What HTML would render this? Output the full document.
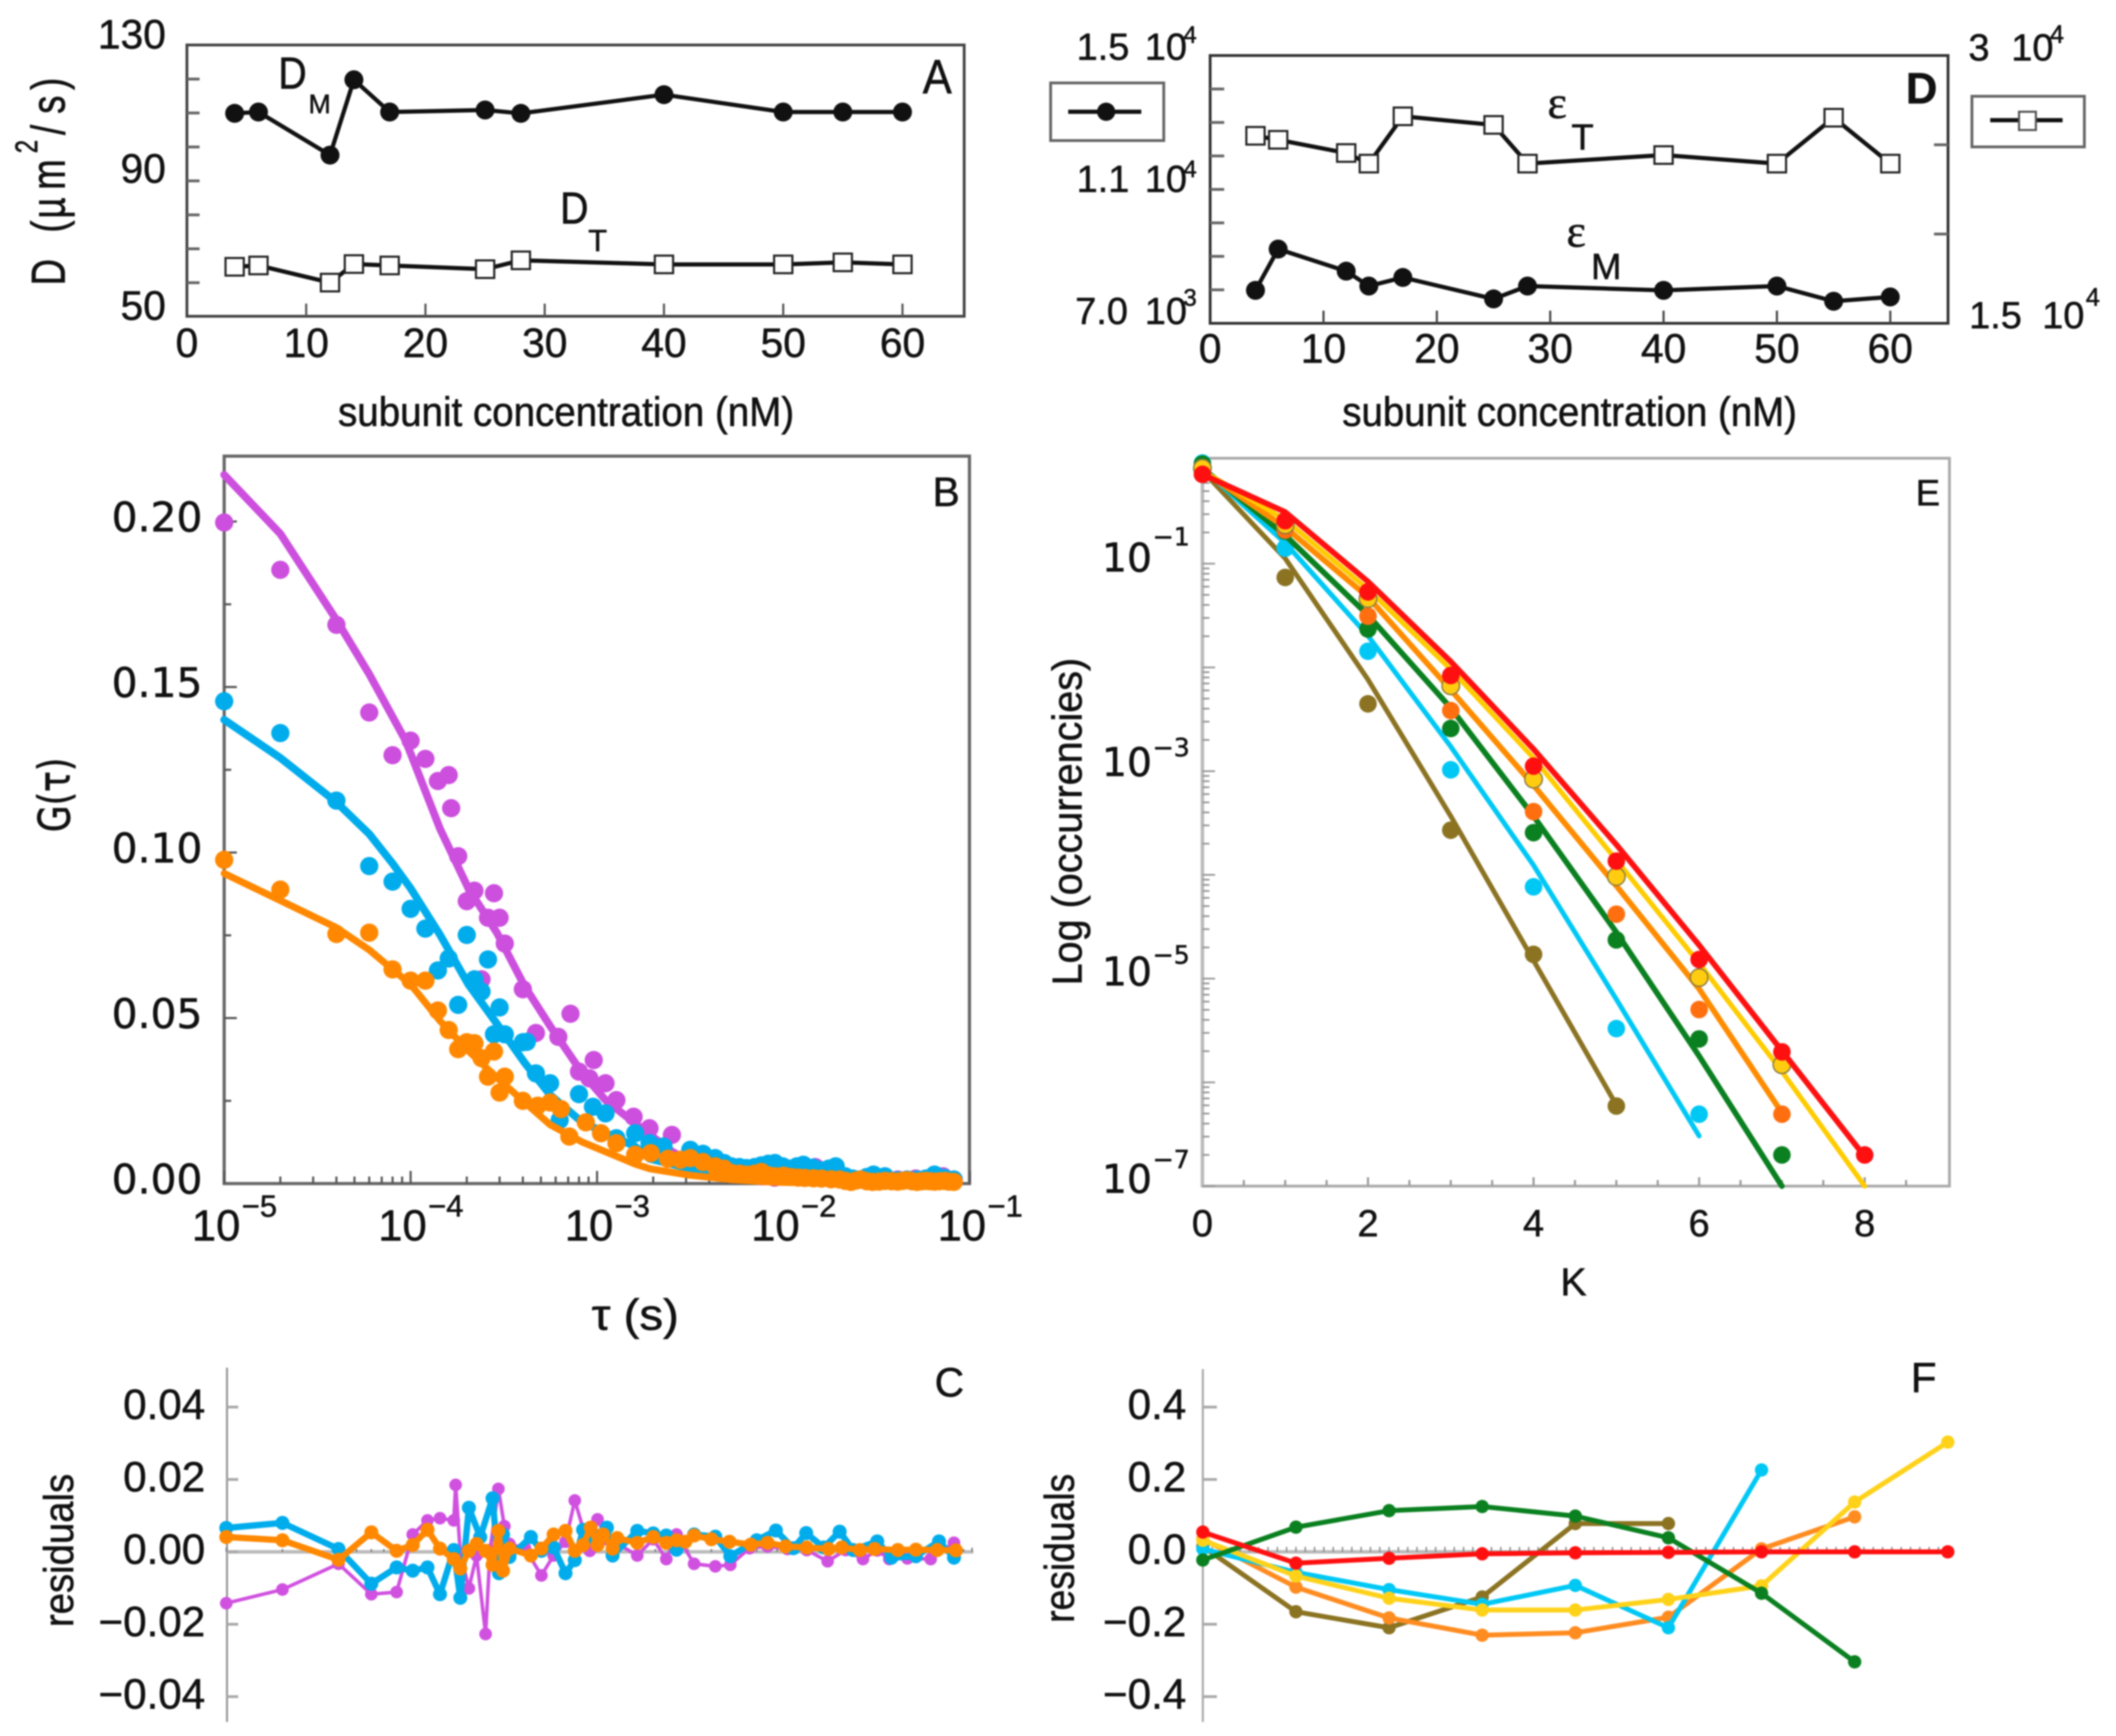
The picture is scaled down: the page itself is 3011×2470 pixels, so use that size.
<!DOCTYPE html>
<html lang="en">
<head>
<meta charset="utf-8">
<title>FCS panels A-F</title>
<style>
html,body{margin:0;padding:0;background:#fff}
svg{display:block;filter:blur(1px)}
text{fill:#111;stroke:#111;stroke-width:.7px;font-family:"Liberation Sans",sans-serif}
.dj{font-family:"DejaVu Sans",sans-serif}
.sf{font-family:"Liberation Serif",serif}
</style>
</head>
<body>
<svg id="fig" xmlns="http://www.w3.org/2000/svg" width="3011" height="2470" viewBox="0 0 3011 2470">
<rect width="3011" height="2470" fill="#fff"/>
<g id="pA">
<rect x="266" y="64" width="1106" height="386" fill="none" stroke="#444" stroke-width="4"/>
<text transform="translate(92,406) rotate(-90) scale(1,1.3)" font-size="52"><tspan x="0">D</tspan><tspan x="75">(</tspan><tspan x="95">µ</tspan><tspan x="136">m</tspan><tspan x="188" dy="-30" font-size="34">2</tspan><tspan x="214" dy="30">/</tspan><tspan x="244">s</tspan><tspan x="278">)</tspan></text>
<text transform="translate(481,606) scale(1,1.12)" x="0" y="0" font-size="52" textLength="649" lengthAdjust="spacingAndGlyphs">subunit concentration (nM)</text>
<text transform="translate(396,126) scale(1,1.15)" font-size="56">D</text>
<text x="439" y="161" font-size="38">M</text>
<text transform="translate(797,318) scale(1,1.15)" font-size="56">D</text>
<text x="837" y="357" font-size="44">T</text>
<text transform="translate(1313,133) scale(1,1.1)" font-size="62">A</text>
</g>
<g id="pD">
<rect x="1722" y="79" width="1050" height="381" fill="none" stroke="#333" stroke-width="4"/>
<text font-size="54"><tspan x="1532" y="85">1.5</tspan><tspan x="1629" y="85">10</tspan><tspan x="1684" y="61" font-size="34">4</tspan></text>
<text font-size="54"><tspan x="1532" y="273">1.1</tspan><tspan x="1629" y="273">10</tspan><tspan x="1684" y="252" font-size="34">4</tspan></text>
<text font-size="54"><tspan x="1530" y="461">7.0</tspan><tspan x="1629" y="461">10</tspan><tspan x="1684" y="435" font-size="34">3</tspan></text>
<text font-size="54"><tspan x="2801" y="86">3</tspan><tspan x="2862" y="86">10</tspan><tspan x="2917" y="61" font-size="36">4</tspan></text>
<text font-size="54"><tspan x="2802" y="467">1.5</tspan><tspan x="2906" y="467">10</tspan><tspan x="2968" y="435" font-size="36">4</tspan></text>
<text transform="translate(1910,606) scale(1,1.12)" x="0" y="0" font-size="52" textLength="647" lengthAdjust="spacingAndGlyphs">subunit concentration (nM)</text>
<text class="sf" x="2202" y="168" font-size="66">ε</text>
<text x="2236" y="213" font-size="52">T</text>
<text class="sf" x="2229" y="351" font-size="66">ε</text>
<text x="2264" y="397" font-size="52">M</text>
<text x="2712" y="147" font-size="62" font-weight="bold">D</text>
<g>
<rect x="1495" y="118" width="161" height="82" fill="#fff" stroke="#666" stroke-width="4"/>
<line x1="1520" y1="159" x2="1624" y2="159" stroke="#111" stroke-width="6"/>
<circle cx="1574" cy="159" r="13" fill="#111"/>
</g>
<g>
<rect x="2806" y="137" width="160" height="72" fill="#fff" stroke="#666" stroke-width="4"/>
<line x1="2832" y1="171" x2="2935" y2="171" stroke="#111" stroke-width="6"/>
<rect x="2873" y="159" width="24" height="26" fill="#fff" stroke="#555" stroke-width="3"/>
</g>
</g>
<g id="pB">
<path d="M319 1684V649H1379.5V1684Z" fill="none" stroke="#666" stroke-width="4.5"/>
<text class="dj" transform="translate(99,1184) rotate(-90) scale(1,1.25)" font-size="50" textLength="106" lengthAdjust="spacingAndGlyphs">G(τ)</text>
<text transform="translate(842,1892) scale(1,1.15)" x="0" y="0" font-size="54" textLength="124" lengthAdjust="spacingAndGlyphs">τ (s)</text>
<text x="1327" y="720" font-size="58">B</text>
</g>
<g id="pE">
<rect x="1711" y="652" width="1063" height="1035.6" fill="none" stroke="#aaa" stroke-width="4"/>
<line x1="1711" y1="652" x2="1711" y2="1688" stroke="#bbb" stroke-width="5"/>
<text transform="translate(1539,1402) rotate(-90) scale(1,1.1)" font-size="54" textLength="466" lengthAdjust="spacingAndGlyphs">Log (occurrencies)</text>
<text x="2239" y="1843" font-size="56" text-anchor="middle">K</text>
<text x="2726" y="719" font-size="52">E</text>
</g>
<g id="pC">
<line x1="323" y1="1946" x2="323" y2="2450" stroke="#999" stroke-width="3"/>
<line x1="323" y1="2208" x2="1385" y2="2208" stroke="#bbb" stroke-width="5"/>
<text transform="translate(104,2315) rotate(-90) scale(1,1.1)" font-size="54" textLength="218" lengthAdjust="spacingAndGlyphs">residuals</text>
<text x="1330" y="1987" font-size="58">C</text>
</g>
<g id="pF">
<line x1="1711.6" y1="1948" x2="1711.6" y2="2450" stroke="#aaa" stroke-width="3"/>
<line x1="1711.6" y1="2208" x2="2775" y2="2208" stroke="#bbb" stroke-width="5"/>
<text transform="translate(1528,2309) rotate(-90) scale(1,1.1)" font-size="54" textLength="212" lengthAdjust="spacingAndGlyphs">residuals</text>
<text x="2719" y="1981" font-size="60">F</text>
</g>
</svg>
<script>
// ---- Panel A data ----
const concA = [4,6,12,14,17,25,28,40,50,55,60];
const diffMonomer = [109.9,110.3,97.6,119.8,110.3,110.9,109.9,115.4,110.3,110.3,110.3];
const diffTetramer = [64.7,65.1,60.05,65.5,65.1,64,66.6,65.4,65.4,66,65.4];
const ticksAX = [0,10,20,30,40,50,60];
const ticksAY = [60,70,80,90,100,110,120];
const labelsAY = [130,90,50];
// ---- Panel D data ----
const concD = [4,6,12,14,17,25,28,40,50,55,60];
const epsMonomer = [7985,9218,8559,8113,8370,7728,8113,7985,8113,7660,7788];
const epsTetramer = [25503,25279,24540,23945,26595,26113,23945,24427,23945,26515,23945];
const ticksDX = [0,10,20,30,40,50,60];
const ticksDLeft = [8000,9000,10000,11000,12000,13000,14000];
const ticksDRight = [20000,25000];
// ---- Panel B data: tau in units of 10 microseconds ----
const tauPurple = [1,2,4,6,8,10,12,14,16,16.5,18,20,22,24,26,28,30,32,40,47,62,72,80,91,96,111,127,157,191,252,320,384,448,512,640,768,896,1024,1280,1480,1792,2048,2560,3072,3584,4096,5120,6144,7168,8192];
const gPurple = [.1997,.1854,.1688,.1423,.1294,.1338,.1283,.1216,.1234,.1134,.0989,.0853,.0885,.0617,.0803,.0877,.0803,.0725,.0587,.0455,.0443,.0513,.0338,.0318,.0373,.0303,.0252,.0202,.0167,.0147,.0085,.007,.006,.005,.004,.0022,.0018,.0025,.0045,.005,.0028,.0015,.0012,.0008,.001,.0012,.0015,.0018,.0022,.0012];
const tauBlue = [1,2,4,6,8,10,12,14,16,18,20,22,24,26,28,30,32,40,42,47,56,63,80,95,111,127,160,191,227,316,370,430,480,525,580,632,700,760,830,900,990,1080,1180,1277,1440,1600,1750,1905,2140,2350,2560,2800,3040,3500,4096,4600,5200,5800,6450,7300,8192];
const gBlue = [.1457,.1361,.1157,.0959,.0912,.083,.077,.0644,.068,.054,.0751,.0617,.058,.0677,.0451,.0532,.0451,.0427,.0428,.0333,.0303,.0192,.027,.0232,.0212,.0137,.0152,.0122,.0112,.0102,.009,.0077,.0062,.0052,.005,.0047,.005,.0055,.006,.0062,.0052,.0045,.0052,.0057,.0048,.004,.0045,.0052,.0022,.0015,.0012,.002,.0027,.0022,.001,.0012,.0012,.0015,.0027,.0017,.0012];
const tauOrange = [1,2,4,6,8,10,12,14,16,18,20,22,24,26,28,30,32,40,48,56,64,71,87,105,127,160,194,240,280,316,370,430,480,525,580,632,700,760,830,900,1000,1100,1200,1300,1450,1600,1800,2000,2150,2300,2450,2600,2800,3000,3250,3500,3800,4096,4350,4600,4900,5200,5500,5800,6100,6450,6850,7300,7700,8192];
const gOrange = [.0978,.0888,.0754,.0758,.0647,.0613,.0613,.0523,.0464,.0406,.0427,.0424,.0379,.0323,.0399,.0275,.0323,.025,.0235,.0245,.0225,.0142,.0185,.0152,.0122,.0087,.0092,.0075,.0072,.0077,.0065,.0052,.0045,.0032,.003,.0027,.003,.0035,.0025,.0022,.0024,.002,.0018,.0017,.0016,.0015,.0013,.0012,.0008,.0005,.0009,.0012,.0007,.0005,.0006,.0008,.0007,.0006,.0008,.001,.0007,.0005,.0007,.0008,.0007,.0006,.0007,.0008,.0006,.0005];
const tauFitPurple = [1,2,4,6,9.4,14.4,20.4,29,41,56,83,111,160,252,430,900,2000,8192];
const fitPurple = [.2141,.1963,.1703,.1539,.1338,.1071,.0892,.0758,.0595,.0476,.0335,.0252,.0182,.0097,.0027,.0007,.0001,0];
const tauFit = [1,2,4,6,8,10,14.4,20.4,29,41,56,83,160,191,316,525,900,2000,8192];
const fitBlue = [.1401,.1286,.1152,.1056,.0967,.0892,.0751,.0602,.0483,.0364,.0268,.0186,.0112,.0075,.0045,.0025,.001,.0003,0];
const fitOrange = [.0937,.0855,.0773,.0706,.0647,.0602,.0491,.0401,.032,.0245,.0178,.0126,.0059,.0045,.0025,.0012,.0004,.0001,0];
const ticksBY = [0,.05,.1,.15,.2];
const labelsBY = ["0.00","0.05","0.10","0.15","0.20"];
const minorBY = [.025,.075,.125,.175];
const decadesB = [-5,-4,-3,-2,-1];
// ---- Panel C data ----
const tauResPurple = [1,2,4,6,8.2,10,12,14,16.6,17,18,20,22,24.6,26,28.8,31,33,40,49,57,66,74,89,98,110,128,160,195,229,260,323,420,505,640,800,1024,1300,1680,2100,2600,3100,3600,4500,6000,8000];
const resPurple = [-.0142,-.0104,-.0033,-.0117,-.0111,.0048,.0087,.0093,.0087,.0185,-.0004,-.0101,-.001,-.0227,.0005,.0174,.0071,.0022,.001,-.0065,-.001,.0028,.0142,.0003,.009,.0035,.002,-.001,.0035,-.002,.0048,-.0033,-.004,-.0036,.001,.0015,.0008,.0005,-.0026,.0005,-.002,.0004,-.002,-.0018,-.002,.0025];
const tauResBlue = [1,2,4,6,8.2,10,12,14,16.6,18,20,23,26.8,29,30.5,33,43,49,57,66,74,82,90,110,118,160,195,229,260,323,420,505,700,887,1100,1290,1600,1950,2300,3100,3700,5000,6650,8000];
const resBlue = [.0066,.008,.0008,-.0088,-.0043,-.0052,-.0043,-.0117,.0005,-.0127,.0122,.0041,.0148,-.0059,.0048,-.0014,.0041,.0003,.0012,-.0059,-.0023,.0061,.0041,.0067,-.001,.0058,.0051,.0045,.0006,.0048,.0042,-.0012,.0032,.0059,.001,.0052,.0012,.0056,.0005,.0029,-.0016,-.0012,.0029,-.0016];
const tauResOrange = [1,2,4,6,8.2,10,12,14,16.6,18,20,22,24.6,26.8,28.8,30.5,33,43,49,57,66,74,82,90,98,105,118,125,160,195,229,260,290,323,400,500,650,800,1000,1300,1700,2000,2500,3000,4000,5000,6500,8192];
const resOrange = [.0041,.0032,-.0022,.0054,.0003,.0019,.0061,.0009,-.002,-.0046,.0003,.0022,.0003,-.0036,.0058,-.0052,.0009,-.001,.0009,.0048,.0058,.0003,.0019,.0067,.0019,.0048,.0009,.0038,.0025,.0041,.0025,.0032,.0028,.0045,.0035,.0028,.002,.0025,.0015,.0012,.0008,.0012,.0005,.0008,.0005,.0006,.0005,.0004];
const ticksCY = [-.04,-.02,0,.02,.04];
const labelsCY = ["\u22120.04","\u22120.02","0.00","0.02","0.04"];
// ---- Panel E data: log10 occurrences, by K = 0,1,2,... ----
const ePointsBrown = [-.065,-1.133,-2.351,-3.569,-4.766,-6.228];
const eLineBrown = [-.104,-.949,-2.117,-3.434,-4.826,-6.218];
const ePointsCyan = [-.03,-.85,-1.844,-2.987,-4.115,-5.482,-6.307];
const eLineCyan = [-.08,-.8,-1.695,-2.763,-3.907,-5.199,-6.516];
const ePointsGreen = [-.04,-.686,-1.63,-2.589,-3.593,-4.627,-5.581,-6.7];
const eLineGreen = [-.08,-.726,-1.496,-2.391,-3.434,-4.553,-5.746,-7];
const ePointsOrange = [-.089,-.676,-1.506,-2.416,-3.39,-4.379,-5.298,-6.307];
const eLineOrange = [-.104,-.651,-1.322,-2.217,-3.136,-4.105,-5.099,-6.292];
const ePointsYellow = [-.08,-.626,-1.337,-2.177,-3.077,-4.016,-4.99,-5.83];
const eLineYellow = [-.104,-.577,-1.248,-2.018,-2.873,-3.857,-4.851,-5.895,-7];
const ePointsRed = [-.139,-.586,-1.272,-2.078,-2.952,-3.867,-4.816,-5.706,-6.7];
const eLineRed = [-.139,-.502,-1.173,-1.943,-2.788,-3.708,-4.677,-5.696,-6.715];
const ticksEX = [0,2,4,6,8];
const minorEX = [.5,1,1.5,2.5,3,3.5,4.5,5,5.5,6.5,7,7.5,8.5];
const labelsEY = [-1,-3,-5,-7];
const labelBaselineEY = [813,1104,1402,1697];
const expBaselineEY = [776,1076,1371,1662];
const minorMult = [2,3,4,5,6,7,8,9];
// ---- Panel F data: residuals by K ----
const fBrown = [.015,-.1655,-.2098,-.1247,.0783,.0783];
const fOrange = [.0354,-.0974,-.1826,-.2302,-.2234,-.1805,.0082,.0967];
const fCyan = [.0082,-.0565,-.1042,-.1451,-.0926,-.2098,.2262];
const fYellow = [.032,-.0668,-.1281,-.1608,-.1608,-.1315,-.094,.1376,.3031];
const fGreen = [-.0225,.0681,.1138,.1253,.0988,.0388,-.1144,-.3038];
const fRed = [.0545,-.0313,-.0177,-.0054,-.0027,-.0014,0,0,0];
const ticksFY = [-.4,-.2,0,.2,.4];
const labelsFY = ["\u22120.4","\u22120.2","0.0","0.2","0.4"];

// ---- axis functions ----
const xA = v => 266 + v * 16.97;
const yA = v => 450.6 - (v - 50) * 4.83;
const xD = v => 1722 + v * 16.13;
const yDL = v => 460 - (v - 7000) * 381 / 8000;
const yDR = v => 460 - (v - 15000) * 381 / 15000;
const xB = u => 319 + Math.log10(u) * 265.3;
const yB = g => 1684 - g * 4710;
const xC = u => xB(u) + 3;
const yC = r => 2208 - r * 5150;
const xE = k => 1711 + k * 117.8;
const yE = l => 654.4 - l * 147.6;
const xF = k => 1711.6 + k * 132.5;
const yF = r => 2208 - r * 515;

const NS = 'http://www.w3.org/2000/svg';
function mk(tag, attrs, parent, name) {
  const el = document.createElementNS(NS, tag);
  for (const k in attrs) el.setAttribute(k, attrs[k]);
  
  
  parent.appendChild(el);
  return el;
}
function label(parent, x, y, str, size, anchor, name, cls) {
  const a = {x: x, y: y, 'font-size': size, 'text-anchor': anchor};
  if (cls) a['class'] = cls;
  const el = mk('text', a, parent, name);
  el.textContent = str;
  return el;
}
function polyline(parent, xs, ys, stroke, w, name) {
  const pts = xs.map((x, i) => x.toFixed(1) + ',' + ys[i].toFixed(1)).join(' ');
  return mk('polyline', {points: pts, fill: 'none', stroke: stroke, 'stroke-width': w, 'stroke-linejoin': 'round', 'stroke-linecap': 'round'}, parent, name);
}
function dots(parent, xs, ys, r, fill, name, stroke) {
  const g = mk('g', {}, parent, name + '-points');
  xs.forEach((x, i) => {
    const a = {cx: x.toFixed(1), cy: ys[i].toFixed(1), r: r, fill: fill};
    if (stroke) { a.stroke = stroke; a['stroke-width'] = 2; }
    mk('circle', a, g, name + '-point');
  });
}
function squares(parent, xs, ys, name) {
  const g = mk('g', {}, parent, name + '-points');
  xs.forEach((x, i) => {
    mk('rect', {x: (x - 13).toFixed(1), y: (ys[i] - 12.5).toFixed(1), width: 26, height: 25, fill: '#fff', stroke: '#222', 'stroke-width': 3}, g, name + '-point');
  });
}
function tickH(parent, x, y, len, color, w, name) {
  mk('line', {x1: x, y1: y.toFixed(1), x2: x + len, y2: y.toFixed(1), stroke: color, 'stroke-width': w}, parent, name);
}
function tickV(parent, x, y, len, color, w, name) {
  mk('line', {x1: x.toFixed(1), y1: y, x2: x.toFixed(1), y2: y + len, stroke: color, 'stroke-width': w}, parent, name);
}
const $ = id => document.getElementById(id);

// ---- Panel A ----
(function () {
  const p = $('pA');
  ticksAX.forEach(v => {
    if (v > 0) tickV(p, xA(v), 450, -18, '#555', 3, 'panel-a-x-tick');
    label(p, xA(v), 508, String(v), 58, 'middle', 'panel-a-x-tick-label');
  });
  ticksAY.forEach(v => tickH(p, 266, yA(v), 18, '#666', 4, 'panel-a-y-tick'));
  const by = {130: 69, 90: 260, 50: 455};
  labelsAY.forEach(v => label(p, 236, by[v], String(v), 58, 'end', 'panel-a-y-tick-label'));
  polyline(p, concA.map(xA), diffMonomer.map(yA), '#111', 6, 'dm-line');
  polyline(p, concA.map(xA), diffTetramer.map(yA), '#111', 6, 'dt-line');
  dots(p, concA.map(xA), diffMonomer.map(yA), 13.5, '#111', 'dm');
  squares(p, concA.map(xA), diffTetramer.map(yA), 'dt');
})();

// ---- Panel D ----
(function () {
  const p = $('pD');
  ticksDX.forEach(v => {
    if (v > 0) tickV(p, xD(v), 460, -18, '#444', 3, 'panel-d-x-tick');
    label(p, xD(v), 516, String(v), 58, 'middle', 'panel-d-x-tick-label');
  });
  ticksDLeft.forEach(v => tickH(p, 1722, yDL(v), 20, '#666', 4, 'panel-d-left-tick'));
  ticksDRight.forEach(v => tickH(p, 2772, yDR(v), -20, '#666', 4, 'panel-d-right-tick'));
  polyline(p, concD.map(xD), epsTetramer.map(yDR), '#111', 6, 'epsilon-t-line');
  polyline(p, concD.map(xD), epsMonomer.map(yDL), '#111', 6, 'epsilon-m-line');
  dots(p, concD.map(xD), epsMonomer.map(yDL), 13.5, '#111', 'epsilon-m');
  squares(p, concD.map(xD), epsTetramer.map(yDR), 'epsilon-t');
})();

// ---- log x ticks shared by B and C ----
function logTicks(p, xf, y0, dirMajor, dirMinor, color, w, name) {
  decadesB.forEach(d => {
    const u = Math.pow(10, d + 5);
    tickV(p, xf(u), y0, dirMajor, color, w, name + '-major-tick');
    if (d < -1) minorMult.forEach(m => tickV(p, xf(u * m), y0, dirMinor, color, w, name + '-minor-tick'));
  });
}

// ---- Panel B ----
(function () {
  const p = $('pB');
  logTicks(p, xB, 1684, -18, -10, '#555', 3, 'panel-b-x');
  ticksBY.forEach((v, i) => {
    if (v > 0) tickH(p, 319, yB(v), 18, '#555', 3, 'panel-b-y-major-tick');
    label(p, 288, yB(v) + 14, labelsBY[i], 58, 'end', 'panel-b-y-tick-label', 'dj');
  });
  minorBY.forEach(v => tickH(p, 319, yB(v), 10, '#555', 3, 'panel-b-y-minor-tick'));
  decadesB.forEach(d => {
    const x = xB(Math.pow(10, d + 5));
    label(p, x - 46, 1765, '10', 62, 'start', 'panel-b-x-tick-label');
    label(p, x + 25, 1731, '\u2212' + Math.abs(d), 44, 'start', 'panel-b-x-tick-exponent');
  });
  const series = [
    ['purple', '#CC4FDE', tauPurple, gPurple, tauFitPurple, fitPurple, 11],
    ['blue', '#00ACEC', tauBlue, gBlue, tauFit, fitBlue, 11],
    ['orange', '#FF8800', tauOrange, gOrange, tauFit, fitOrange, 10]
  ];
  series.forEach(s => {
    dots(p, s[2].map(xB), s[3].map(yB), 13, s[1], 'correlation-' + s[0]);
    polyline(p, s[4].map(xB), s[5].map(yB), s[1], s[6], 'fit-' + s[0]);
  });
})();

// ---- Panel C ----
(function () {
  const p = $('pC');
  logTicks(p, xC, 2208, -6, -4, '#777', 2, 'panel-c-x');
  ticksCY.forEach((v, i) => {
    tickH(p, 323, yC(v), 16, '#aaa', 4, 'panel-c-y-tick');
    label(p, 292, yC(v) + 17, labelsCY[i], 60, 'end', 'panel-c-y-tick-label');
  });
  const series = [
    ['purple', '#D050E0', tauResPurple, resPurple, 5, 9],
    ['blue', '#00ACEC', tauResBlue, resBlue, 9, 10],
    ['orange', '#FF8800', tauResOrange, resOrange, 9, 10]
  ];
  series.forEach(s => {
    polyline(p, s[2].map(xC), s[3].map(yC), s[1], s[4], 'residual-line-' + s[0]);
    dots(p, s[2].map(xC), s[3].map(yC), s[5], s[1], 'residual-' + s[0]);
  });
})();

// ---- Panel E ----
(function () {
  const p = $('pE');
  ticksEX.forEach(k => {
    if (k > 0) tickV(p, xE(k), 1687, -12, '#999', 3, 'panel-e-x-major-tick');
    label(p, xE(k), 1759, String(k), 54, 'middle', 'panel-e-x-tick-label');
  });
  minorEX.forEach(k => tickV(p, xE(k), 1687, -8, '#999', 3, 'panel-e-x-minor-tick'));
  for (let d = -7; d <= -1; d++) {
    tickH(p, 1711, yE(d), 18, '#999', 2.5, 'panel-e-y-major-tick');
  }
  for (let d = -7; d <= -1; d++) {
    minorMult.forEach(m => tickH(p, 1711, yE(d + Math.log10(m)), 10, '#999', 2.5, 'panel-e-y-minor-tick'));
  }
  labelsEY.forEach((d, i) => {
    label(p, 1568, labelBaselineEY[i], '10', 56, 'start', 'panel-e-y-tick-label', 'dj');
    label(p, 1640, expBaselineEY[i], '\u2212' + Math.abs(d), 36, 'start', 'panel-e-y-tick-exponent', 'dj');
  });
  const series = [
    ['brown', '#8B7322', ePointsBrown, eLineBrown, 7, null, '#8B7322'],
    ['cyan', '#00C8F5', ePointsCyan, eLineCyan, 7, null, '#00C8F5'],
    ['green', '#0A8020', ePointsGreen, eLineGreen, 8, null, '#0A8020'],
    ['orange', '#FF8C00', ePointsOrange, eLineOrange, 8, null, '#FF6F10'],
    ['yellow', '#FFCC00', ePointsYellow, eLineYellow, 7, '#8a7a40', '#FFCC10'],
    ['red', '#FF1010', ePointsRed, eLineRed, 8, null, '#FF1010']
  ];
  series.forEach(s => {
    polyline(p, s[3].map((v, k) => xE(k)), s[3].map(yE), s[1], s[4], 'occurrence-fit-' + s[0]);
    dots(p, s[2].map((v, k) => xE(k)), s[2].map(yE), 12.5, s[6], 'occurrence-' + s[0], s[5]);
  });
})();

// ---- Panel F ----
(function () {
  const p = $('pF');
  for (let i = 1; i <= 80; i++) {
    tickV(p, xF(i / 10), 2208, -7, '#888', 2, 'panel-f-x-tick');
  }
  ticksFY.forEach((v, i) => {
    tickH(p, 1711.6, yF(v), 20, '#aaa', 4, 'panel-f-y-tick');
    label(p, 1688, yF(v) + 17, labelsFY[i], 60, 'end', 'panel-f-y-tick-label');
  });
  const series = [
    ['brown', '#8B7322', fBrown],
    ['orange', '#FF8C20', fOrange],
    ['cyan', '#00C8F5', fCyan],
    ['yellow', '#FFD21A', fYellow],
    ['green', '#0A8020', fGreen],
    ['red', '#FF1010', fRed]
  ];
  series.forEach(s => {
    polyline(p, s[2].map((v, k) => xF(k)), s[2].map(yF), s[1], 7, 'residual-k-line-' + s[0]);
    dots(p, s[2].map((v, k) => xF(k)), s[2].map(yF), 9.5, s[1], 'residual-k-' + s[0]);
  });
})();
</script>
</body>
</html>
